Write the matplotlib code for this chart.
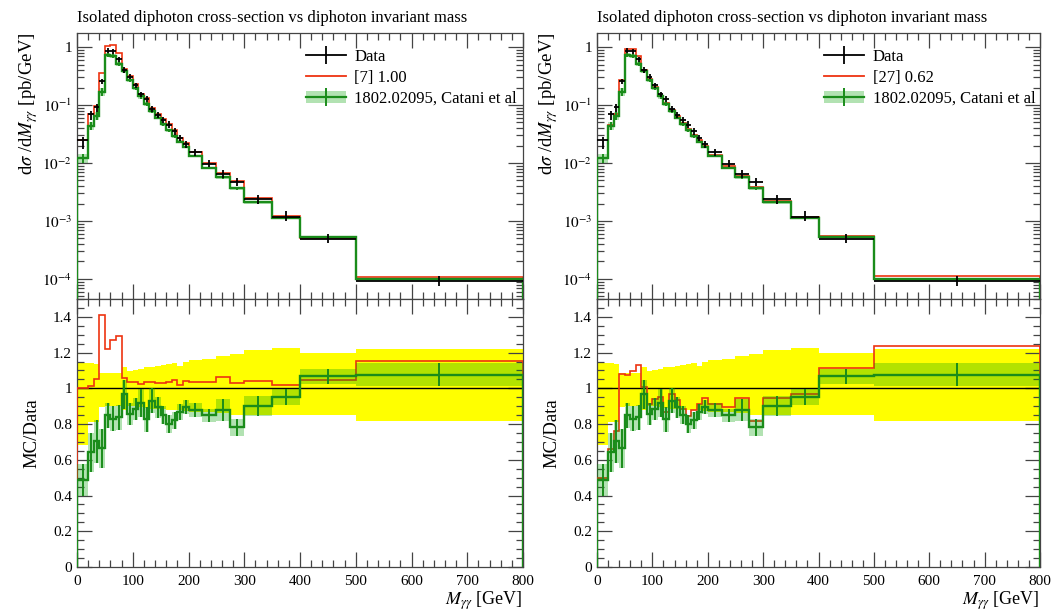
import numpy as np
import matplotlib
matplotlib.use("Agg")
import matplotlib.pyplot as plt
from matplotlib.lines import Line2D
from matplotlib.patches import Patch
from matplotlib.ticker import MultipleLocator, FixedLocator, LogLocator, NullFormatter

plt.rcParams["font.family"] = ["Liberation Serif", "DejaVu Serif"]
plt.rcParams["mathtext.fontset"] = "stix"

# -------- DATOS --------
edges = [0, 20, 30, 40, 50, 60, 70, 80, 90, 100, 110, 120, 130, 140, 150,
         160, 170, 180, 190, 200, 225, 250, 275, 300, 350, 400, 500, 800]

# dsigma/dM [pb/GeV]
data = [0.025, 0.069, 0.093, 0.255, 0.87, 0.86, 0.62, 0.40, 0.31, 0.22,
        0.153, 0.127, 0.085, 0.068, 0.055, 0.046, 0.035, 0.027, 0.021,
        0.0152, 0.0097, 0.0064, 0.0047, 0.00235, 0.00119, 0.00049, 0.000092]

# incertidumbre relativa de los datos (arriba / abajo)
data_up = [0.144, 0.14, 0.135, 0.085, 0.088, 0.088, 0.088, 0.12, 0.098, 0.10,
           0.107, 0.117, 0.122, 0.126, 0.13, 0.135, 0.14, 0.126, 0.148,
           0.16, 0.165, 0.18, 0.19, 0.215, 0.228, 0.196, 0.219]
data_dn = [0.315, 0.19, 0.19, 0.105, 0.10, 0.10, 0.10, 0.12, 0.10, 0.10,
           0.105, 0.11, 0.115, 0.115, 0.115, 0.12, 0.12, 0.12, 0.125,
           0.13, 0.135, 0.14, 0.15, 0.15, 0.152, 0.148, 0.185]

# 1802.02095, Catani et al : MC/Data y su error
catani_ratio = [0.487, 0.642, 0.704, 0.665, 0.85, 0.83, 0.837, 0.967, 0.857,
                0.885, 0.919, 0.826, 0.931, 0.894, 0.85, 0.80, 0.82, 0.868,
                0.897, 0.88, 0.85, 0.88, 0.782, 0.90, 0.95, 1.068, 1.075]
catani_err = [0.09, 0.11, 0.12, 0.11, 0.07, 0.07, 0.07, 0.08, 0.06, 0.06,
              0.08, 0.07, 0.07, 0.06, 0.05, 0.05, 0.05, 0.045, 0.04, 0.04,
              0.037, 0.062, 0.048, 0.055, 0.045, 0.043, 0.064]

# MC/Data de cada generador
mc_left_ratio = [1.0, 1.015, 1.053, 1.41, 1.22, 1.27, 1.295, 1.058, 1.033,
                 1.033, 1.025, 1.036, 1.035, 1.03, 1.03, 1.035, 1.047, 1.019,
                 1.04, 1.034, 1.037, 1.062, 1.032, 1.039, 1.018, 1.046, 1.155]
mc_right_ratio = [0.497, 0.66, 0.76, 1.08, 1.074, 1.095, 1.13, 1.01, 0.915,
                  0.94, 0.95, 0.87, 0.97, 0.935, 0.885, 0.845, 0.88, 0.915,
                  0.944, 0.915, 0.898, 0.948, 0.818, 0.944, 0.97, 1.116, 1.236]

mc_labels = ["[7] 1.00", "[27] 0.62"]
title = "Isolated diphoton cross-section vs diphoton invariant mass"

RED = "#EE3311"
GREEN = "#1a8c1a"
BAND = "#00a000"

edges = np.array(edges, dtype=float)
data = np.array(data)
centers = 0.5 * (edges[1:] + edges[:-1])
halfw = 0.5 * (edges[1:] - edges[:-1])
cat_r = np.array(catani_ratio)
cat_e = np.array(catani_err)


def estilo_ejes(ax):
    ax.set_xlim(0, 800)
    ax.xaxis.set_major_locator(MultipleLocator(100))
    ax.xaxis.set_minor_locator(MultipleLocator(20))
    ax.tick_params(which="both", direction="in", top=True, right=True,
                   color="#444444", labelsize=11)
    ax.tick_params(which="major", length=11, width=0.9)
    ax.tick_params(which="minor", length=5, width=0.9)
    for s in ax.spines.values():
        s.set_color("#444444")
        s.set_linewidth(0.9)


def dibujar_panel(ax, axr, mc_label, mc_ratio):
    mc_ratio = np.array(mc_ratio)
    mc = data * mc_ratio
    cat = data * cat_r
    cat_lo = data * (cat_r - cat_e)
    cat_hi = data * (cat_r + cat_e)

    # ---- panel principal ----
    ax.stairs(cat_hi, edges, baseline=cat_lo, fill=True, color=BAND,
              alpha=0.3, lw=0, zorder=1)
    ax.stairs(mc, edges, color=RED, lw=1.2, zorder=2)
    ax.stairs(cat, edges, color=GREEN, lw=1.7, zorder=3)
    ax.errorbar(centers, cat, yerr=[cat - cat_lo, cat_hi - cat], fmt="none",
                ecolor=GREEN, elinewidth=1.4, zorder=3)
    ax.errorbar(centers, data, xerr=halfw,
                yerr=[data * np.array(data_dn), data * np.array(data_up)],
                fmt="none", ecolor="black", elinewidth=1.3, zorder=4)

    ax.set_yscale("log")
    ax.set_ylim(4.5e-5, 1.75)
    estilo_ejes(ax)
    ax.yaxis.set_major_locator(FixedLocator([1e-4, 1e-3, 1e-2, 1e-1, 1]))
    ax.set_yticklabels([r"$10^{-4}$", r"$10^{-3}$", r"$10^{-2}$",
                        r"$10^{-1}$", "1"])
    ax.yaxis.set_minor_locator(LogLocator(base=10, subs=np.arange(2, 10)))
    ax.yaxis.set_minor_formatter(NullFormatter())
    ax.tick_params(axis="x", labelbottom=False)
    ax.set_ylabel(r"d$\sigma$ /d$M_{\gamma\gamma}$ [pb/GeV]", fontsize=13.5,
                  loc="top")
    ax.yaxis.set_label_coords(-0.083, 1.0)
    ax.set_title(title, loc="left", fontsize=12, pad=8)

    h_data = Line2D([], [], color="black", lw=1.3, marker="|",
                    markersize=13, markeredgewidth=1.3)
    h_mc = Line2D([], [], color=RED, lw=1.3)
    h_cat = (Patch(facecolor=BAND, alpha=0.3, edgecolor="none"),
             Line2D([], [], color=GREEN, lw=1.6, marker="|", markersize=13,
                    markeredgewidth=1.4))
    ax.legend([h_data, h_mc, h_cat],
              ["Data", mc_label, "1802.02095, Catani et al"],
              loc="upper left", bbox_to_anchor=(0.513, 0.94), frameon=False,
              fontsize=12, handlelength=2.4, handletextpad=0.5,
              labelspacing=0.3, borderpad=0, borderaxespad=0)

    # ---- panel de cociente ----
    axr.stairs(1 + np.array(data_up), edges,
               baseline=1 - np.array(data_dn), fill=True,
               color="#ffff00", lw=0, zorder=1)
    axr.axhline(1.0, color="black", lw=1.0, zorder=2)
    axr.stairs(mc_ratio, edges, color=RED, lw=1.2, zorder=3)
    axr.stairs(cat_r + cat_e, edges, baseline=cat_r - cat_e, fill=True,
               color=BAND, alpha=0.3, lw=0, zorder=4)
    axr.stairs(cat_r, edges, color=GREEN, lw=1.7, zorder=5)
    axr.errorbar(centers, cat_r, yerr=cat_e, fmt="none", ecolor=GREEN,
                 elinewidth=1.4, zorder=5)

    axr.set_ylim(0, 1.5)
    estilo_ejes(axr)
    axr.yaxis.set_major_locator(MultipleLocator(0.2))
    axr.yaxis.set_minor_locator(MultipleLocator(0.05))
    axr.yaxis.set_major_formatter(lambda v, pos: f"{v:g}")
    axr.tick_params(axis="x", pad=6)
    axr.set_ylabel("MC/Data", fontsize=13.5)
    axr.yaxis.set_label_coords(-0.083, 0.5)
    axr.set_xlabel(r"$M_{\gamma\gamma}$ [GeV]", fontsize=13, loc="right")
    axr.xaxis.set_label_coords(1.0, -0.085)


fig = plt.figure(figsize=(10.63, 6.11), dpi=100)

W, H = 1063.0, 611.0
posiciones = [(77, 523), (597, 1040)]
for (x0, x1), lab, rat in zip(posiciones, mc_labels,
                              [mc_left_ratio, mc_right_ratio]):
    ax = fig.add_axes([x0 / W, 1 - 299 / H, (x1 - x0) / W, (299 - 33) / H])
    axr = fig.add_axes([x0 / W, 1 - 567 / H, (x1 - x0) / W, (567 - 299) / H])
    dibujar_panel(ax, axr, lab, rat)

fig.savefig("out.png", dpi=100)
